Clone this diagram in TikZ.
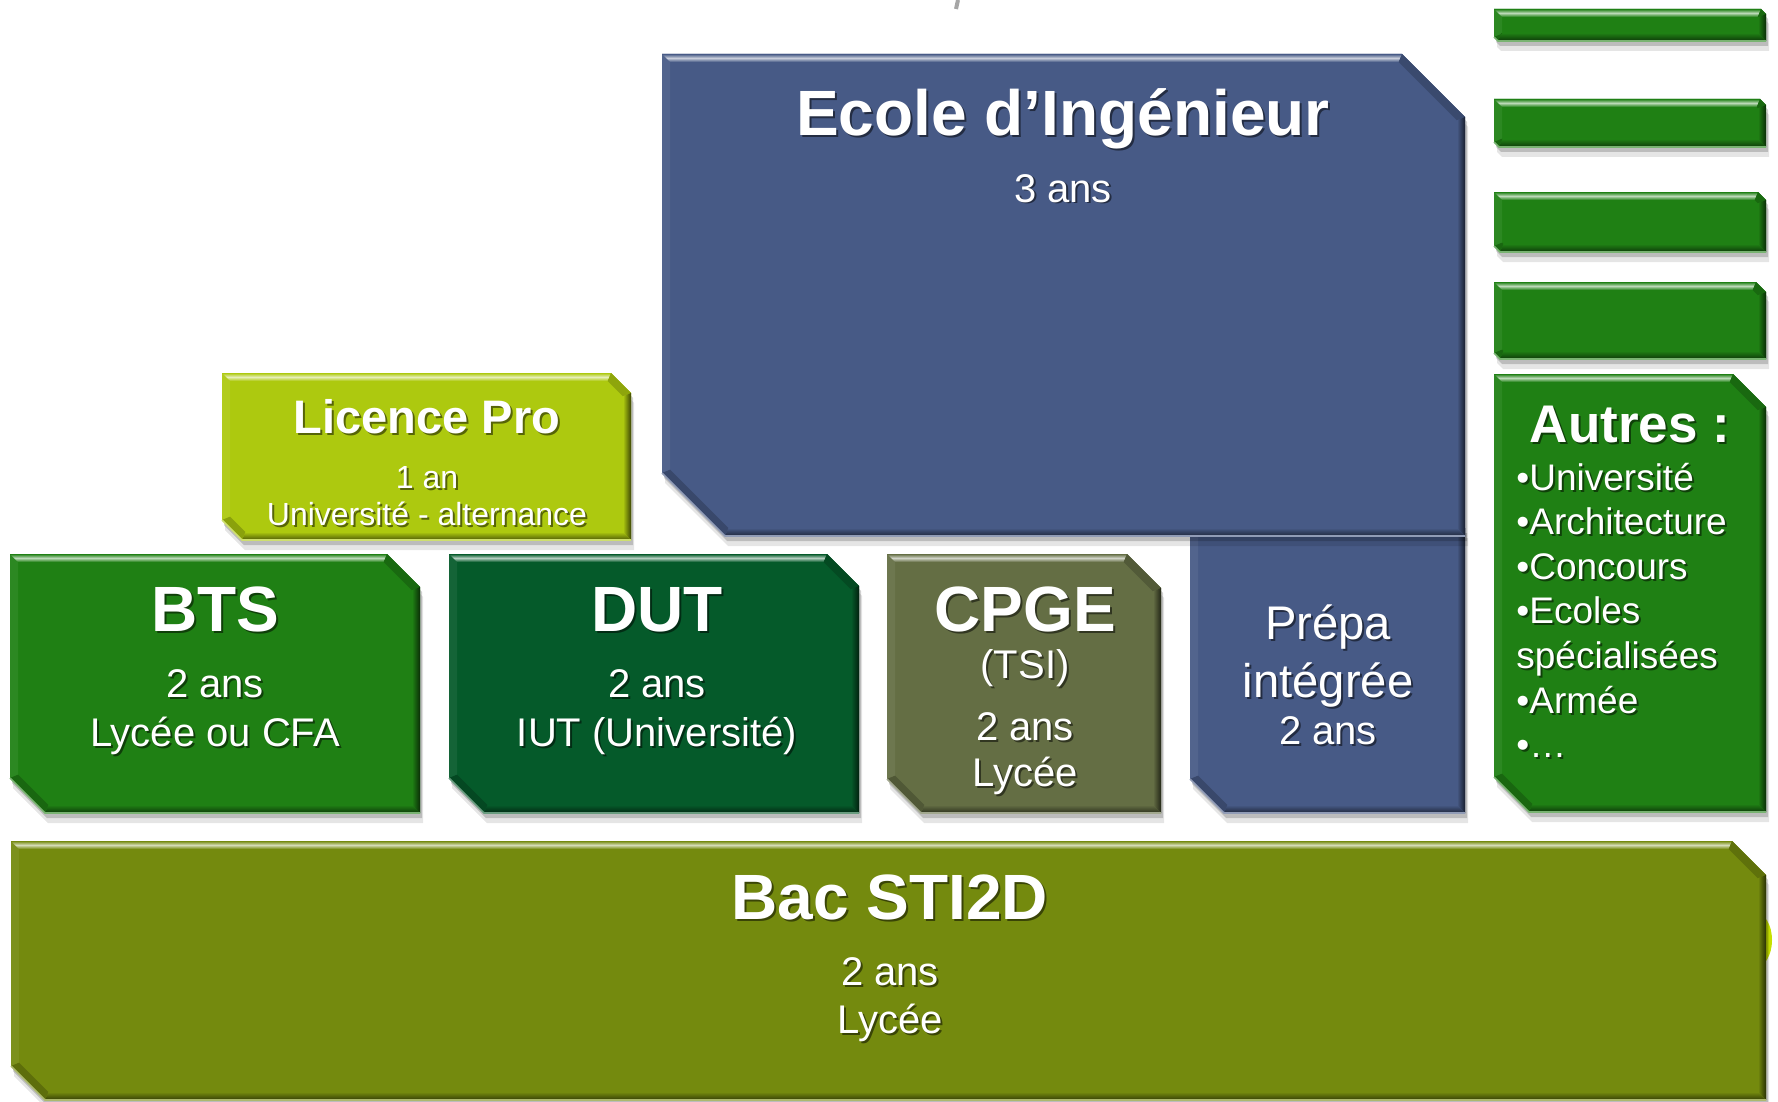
\documentclass[tikz,border=0pt]{standalone}
\usepackage{fontspec}
\setmainfont{Liberation Sans}
\usepackage{tikz}
\usetikzlibrary{positioning}

\definecolor{bleuIng}{HTML}{475A86}
\definecolor{vertLic}{HTML}{ADC90F}
\definecolor{vertBts}{HTML}{1F8014}
\definecolor{vertDut}{HTML}{055A2A}
\definecolor{kakiCpge}{HTML}{646E44}
\definecolor{oliveBac}{HTML}{748A0E}
\definecolor{jauneBord}{HTML}{C6E000}

\def\bd{8}
% bloc biseaute : couleur, x1, y1 (haut), x2, y2 (bas), coupe haut-droite, coupe bas-gauche
\newcommand\bloc[7]{%
	\fill[black,opacity=.1] (#2+3,#3+10) -- (#4-#6+3,#3+10) -- (#4+3,#3+#6+10) -- (#4+3,#5+10) -- (#2+#7+3,#5+10) -- (#2+3,#5-#7+10) -- cycle;
	\fill[black,opacity=.18] (#2+2,#3+5) -- (#4-#6+2,#3+5) -- (#4+2,#3+#6+5) -- (#4+2,#5+5) -- (#2+#7+2,#5+5) -- (#2+2,#5-#7+5) -- cycle;
	\fill[#1] (#2,#3) -- (#4-#6,#3) -- (#4,#3+#6) -- (#4,#5) -- (#2+#7,#5) -- (#2,#5-#7) -- cycle;
	\fill[#1!94!white] (#2,#3) -- (#2+\bd,#3+\bd) -- (#2+\bd,#5-#7-.41*\bd) -- (#2,#5-#7) -- cycle;
	\shade[top color=#1,bottom color=#1,middle color=#1!30!white] (#2,#3) -- (#4-#6,#3) -- (#4-#6-.41*\bd,#3+\bd) -- (#2+\bd,#3+\bd) -- cycle;
	\fill[#1!82!black] (#4-#6,#3) -- (#4,#3+#6) -- (#4-\bd,#3+#6+.41*\bd) -- (#4-#6-.41*\bd,#3+\bd) -- cycle;
	\shade[left color=#1,right color=#1!35!black] (#4,#3+#6) -- (#4,#5) -- (#4-\bd,#5-\bd) -- (#4-\bd,#3+#6+.41*\bd) -- cycle;
	\shade[top color=#1,bottom color=#1!45!black] (#2+#7,#5) -- (#4,#5) -- (#4-\bd,#5-\bd) -- (#2+#7+.41*\bd,#5-\bd) -- cycle;
	\fill[#1!80!black] (#2,#5-#7) -- (#2+#7,#5) -- (#2+#7+.41*\bd,#5-\bd) -- (#2+\bd,#5-#7-.41*\bd) -- cycle;
	\draw[#1!60!white,line width=.8pt] (#2,#5-#7) -- (#2+#7,#5) -- (#4,#5);
}
% texte blanc ombre : nom, x, y (ligne de base), style, texte
\newcommand\texte[5]{%
	\node[anchor=base,#4,text=black,opacity=.5] (#1-o) at ({#2+2},{#3+2}) {#5};
	\node[anchor=base,#4,text=white] (#1) at ({#2},{#3}) {#5};
}

\tikzset{
	grand/.style={font=\bfseries\fontsize{32}{38}\selectfont},
	titreLic/.style={font=\bfseries\fontsize{23.5}{28}\selectfont},
	titreAut/.style={font=\bfseries\fontsize{26.5}{32}\selectfont},
	moyen/.style={font=\fontsize{20}{24}\selectfont},
	prepa/.style={font=\fontsize{23.6}{28}\selectfont},
	petit/.style={font=\fontsize{16}{19}\selectfont},
	liste/.style={font=\fontsize{18.5}{22}\selectfont,anchor=base west,inner sep=0pt},
}

\begin{document}
\begin{tikzpicture}[x=0.5pt,y=-0.5pt]
	\useasboundingbox (0,0) rectangle (1778,1102);
	\draw[gray!70,line width=2pt] (958,0) -- (956,9);
	\fill[jauneBord] (1756,940) ellipse (8pt and 13.5pt);

	% colonne de droite
	\bloc{vertBts}{1494}{9}{1766}{41}{5}{4}
	\bloc{vertBts}{1494}{99}{1766}{147}{6}{5}
	\bloc{vertBts}{1494}{192}{1766}{252}{8}{6}
	\bloc{vertBts}{1494}{282}{1766}{359}{10}{6}
	\bloc{vertBts}{1494}{374}{1766}{812}{33}{35}

	% blocs
	\bloc{bleuIng}{1190}{528}{1465}{813}{0}{34}
	\bloc{bleuIng}{662}{54}{1465}{536}{63}{63}
	\bloc{vertLic}{222}{373}{631}{540}{20}{20}
	\bloc{vertBts}{10}{554}{420}{813}{33}{35}
	\bloc{vertDut}{449}{554}{859}{813}{32}{35}
	\bloc{kakiCpge}{887}{554}{1161}{813}{34}{34}
	\bloc{oliveBac}{11}{841}{1766}{1100}{34}{34}

	% textes
	\texte{ecole}{1063}{136}{grand}{Ecole d’Ingénieur}
	\texte{ecoleDuree}{1063}{202}{moyen}{3 ans}
	\texte{lic}{427}{433}{titreLic}{Licence Pro}
	\texte{licDuree}{427}{488}{petit}{1 an}
	\texte{licLieu}{427}{525}{petit}{Université - alternance}
	\texte{bts}{215}{631}{grand}{BTS}
	\texte{btsDuree}{215}{697}{moyen}{2 ans}
	\texte{btsLieu}{215}{746}{moyen}{Lycée ou CFA}
	\texte{dut}{657}{631}{grand}{DUT}
	\texte{dutDuree}{657}{697}{moyen}{2 ans}
	\texte{dutLieu}{657}{746}{moyen}{IUT (Université)}
	\texte{cpge}{1025}{631}{grand}{CPGE}
	\texte{cpgeTsi}{1025}{678}{moyen}{(TSI)}
	\texte{cpgeDuree}{1025}{740}{moyen}{2 ans}
	\texte{cpgeLieu}{1025}{786}{moyen}{Lycée}
	\texte{prepa}{1328}{639}{prepa}{Prépa}
	\texte{prepaInt}{1328}{697}{prepa}{intégrée}
	\texte{prepaDuree}{1328}{744}{moyen}{2 ans}
	\texte{autres}{1630}{442}{titreAut}{Autres :}
	\foreach \t [count=\i] in {•Université,•Architecture,•Concours,•Ecoles,spécialisées,•Armée,•…}{
		\texte{autres\i}{1516}{490+(\i-1)*44.6}{liste}{\t}
	}
	\texte{bac}{890}{919}{grand}{Bac STI2D}
	\texte{bacDuree}{890}{985}{moyen}{2 ans}
	\texte{bacLieu}{890}{1033}{moyen}{Lycée}
\end{tikzpicture}
\end{document}
